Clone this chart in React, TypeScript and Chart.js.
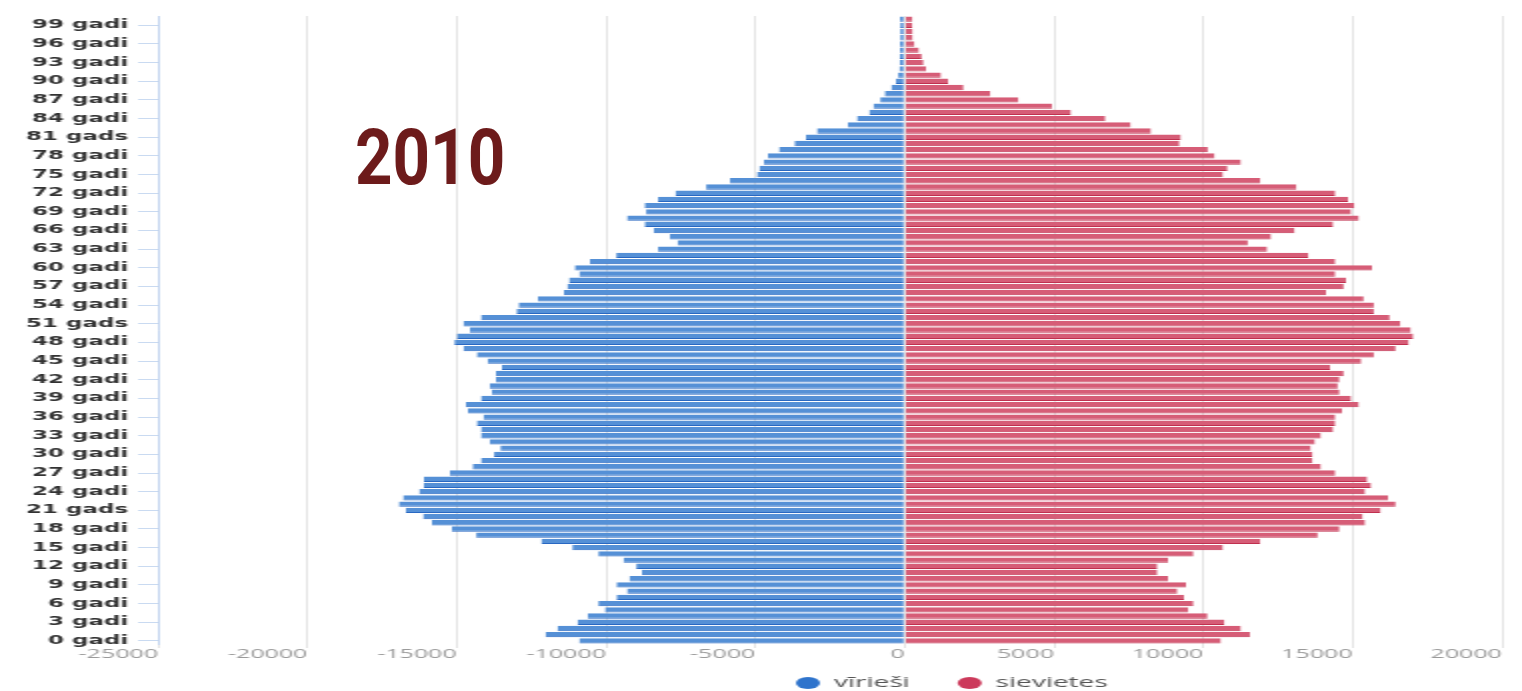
import React, { useEffect, useRef } from 'react';
import { Chart, registerables } from 'chart.js';

Chart.register(...registerables);

// Age categories 0..100 (labels shown for every third age)
const ageLabels: string[] = Array.from({ length: 101 }, (_, a) =>
  `${a} ${a % 10 === 1 && a % 100 !== 11 ? 'gads' : 'gadi'}`
);

// Men (negative = left side), ages 0..100
const maleValues: number[] = [
  -10900, -12030, -11630, -10960, -10620, -10040, -10260, -9650, -9300, -9650,
  -9220, -8800, -8990, -9420, -10260, -11130, -12170, -14350, -15170, -15830,
  -16130, -16710, -16940, -16800, -16260, -16110, -16100, -15230, -14470, -14190,
  -13750, -13540, -13900, -14190, -14190, -14330, -14110, -14630, -14700, -14190,
  -13830, -13900, -13690, -13690, -13490, -13970, -14330, -14780, -15080, -15000,
  -14560, -14780, -14190, -13000, -12930, -12290, -11410, -11300, -11240, -10900,
  -11050, -10540, -9660, -8260, -7610, -7870, -8410, -8710, -9300, -8660,
  -8710, -8260, -7680, -6650, -5850, -4950, -4870, -4720, -4580, -4210,
  -3690, -3310, -2940, -1910, -1600, -1190, -1050, -820, -670, -450,
  -300, -220, -180, -170, -170, -160, -160, -150, -150, -150,
  -160,
];

// Women (right side), ages 0..100
const femaleValues: number[] = [
  10590, 11560, 11260, 10710, 10140, 9500, 9670, 9350, 9130, 9420,
  8820, 8460, 8460, 8820, 9670, 10660, 11910, 13830, 14560, 15420,
  15340, 15940, 16440, 16190, 15420, 15620, 15490, 14420, 13940, 13660,
  13660, 13600, 13740, 13940, 14350, 14420, 14420, 14650, 15210, 14950,
  14560, 14500, 14560, 14700, 14250, 15290, 15710, 16440, 16880, 17030,
  16950, 16600, 16240, 15710, 15710, 15370, 14110, 14700, 14780, 14420,
  15650, 14420, 13520, 12140, 11490, 12270, 13060, 14350, 15210, 14950,
  15060, 14850, 14420, 13120, 11910, 10660, 10810, 11260, 10380, 10150,
  9200, 9250, 8250, 7570, 6720, 5570, 4930, 3810, 2870, 1970,
  1460, 1220, 720, 630, 570, 480, 330, 270, 270, 260,
  260,
];

const seriesNames: string[] = ['vīrieši', 'sievietes'];
const xMin = -25000;
const xMax = 20000;
const xStep = 5000;
const yearTitle = '2010';

const LEGEND_PAD = 24;

const legendShift = {
  id: 'legendShift',
  afterLayout(chart: any) {
    const lg = chart.legend;
    if (!lg) return;
    const dx = 398 - (lg.left + LEGEND_PAD);
    const dy = -9;
    lg.left += dx;
    lg.right += dx;
    lg.top += dy;
    lg.bottom += dy;
  },
};

export default function App() {
  const canvasRef = useRef<HTMLCanvasElement | null>(null);

  useEffect(() => {
    if (!canvasRef.current) return;
    const legendColors = ['#2f74cc', '#cc3a5b'];
    const chart = new Chart(canvasRef.current, {
      type: 'bar',
      data: {
        labels: ageLabels,
        datasets: [
          {
            label: seriesNames[0],
            data: maleValues,
            backgroundColor: '#5590d6',
            borderColor: '#2968c2',
            borderWidth: { top: 0, right: 0, bottom: 1, left: 0 },
            borderSkipped: false,
            barPercentage: 0.86,
            categoryPercentage: 1,
          },
          {
            label: seriesNames[1],
            data: femaleValues,
            backgroundColor: '#d65d77',
            borderColor: '#c0304f',
            borderWidth: { top: 0, right: 0, bottom: 1, left: 0 },
            borderSkipped: false,
            barPercentage: 0.86,
            categoryPercentage: 1,
          },
        ],
      },
      options: {
        indexAxis: 'y',
        responsive: true,
        maintainAspectRatio: false,
        animation: false,
        events: [],
        layout: { padding: { left: 8, right: 10, top: 16, bottom: 0 } },
        scales: {
          x: {
            stacked: true,
            min: xMin,
            max: xMax,
            ticks: {
              stepSize: xStep,
              align: 'end',
              maxRotation: 0,
              color: '#9a9a9a',
              padding: -1,
              font: { family: 'Open Sans', size: 12.5 },
              callback: (v: any) => String(v),
            },
            grid: { color: '#e5e5e5', lineWidth: 1, tickLength: 4 },
            border: { display: false },
          },
          y: {
            stacked: true,
            reverse: true,
            ticks: {
              autoSkip: false,
              padding: 5,
              color: '#333333',
              font: { family: 'DejaVu Sans', weight: 'bold', size: 11.5 },
              callback: (value: any) => (Number(value) % 3 === 0 ? ageLabels[Number(value)] : ''),
            },
            grid: {
              offset: false,
              drawOnChartArea: false,
              tickLength: 10,
              color: (ctx: any) => (ctx.index % 3 === 0 ? '#c9daf1' : 'rgba(0,0,0,0)'),
            },
            border: { color: '#c3d5ef', width: 1 },
          },
        },
        plugins: {
          legend: {
            position: 'bottom',
            align: 'start',
            labels: {
              usePointStyle: true,
              pointStyle: 'circle',
              boxWidth: 12,
              boxHeight: 8.5,
              padding: LEGEND_PAD,
              color: '#555555',
              font: { family: 'Open Sans', size: 14 },
              generateLabels: (c: any) =>
                Chart.defaults.plugins.legend.labels.generateLabels(c).map((it: any, i: number) => ({
                  ...it,
                  fillStyle: legendColors[i],
                  strokeStyle: legendColors[i],
                  lineWidth: 0,
                })),
            },
          },
          tooltip: { enabled: false },
        },
      },
      plugins: [legendShift],
    } as any);
    return () => chart.destroy();
  }, []);

  return (
    <>
      <div
        style={{
          position: 'fixed',
          left: 0,
          top: 0,
          width: 761,
          height: 709,
          transform: 'scaleX(2)',
          transformOrigin: '0 0',
        }}
      >
        <canvas ref={canvasRef} />
      </div>
      <div
        style={{
          position: 'fixed',
          left: 355,
          top: 120,
          fontFamily: 'Roboto, "DejaVu Sans", sans-serif',
          fontWeight: 700,
          fontSize: 77,
          lineHeight: 1,
          color: '#6d1b1b',
          transform: 'scaleX(0.85)',
          transformOrigin: '0 0',
          whiteSpace: 'nowrap',
        }}
      >
        {yearTitle}
      </div>
    </>
  );
}
